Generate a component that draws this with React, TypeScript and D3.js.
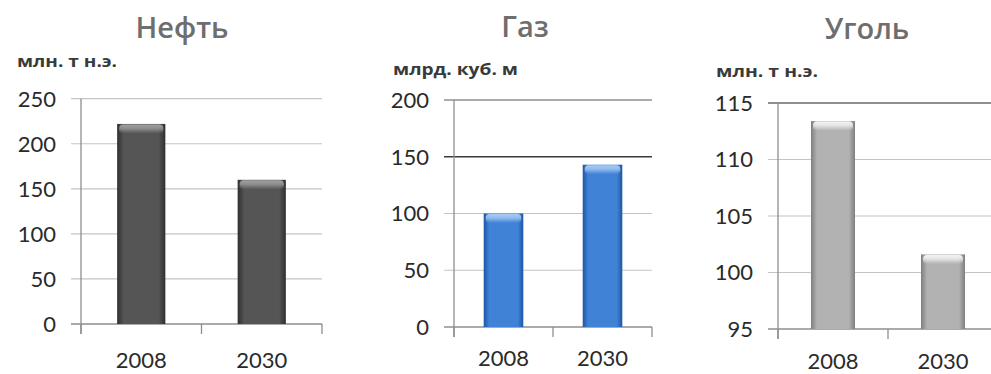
import React from "react";
import * as d3 from "d3";

// Categories and series
const categories = ["2008", "2030"];
const oilValues = [222, 160];
const gasValues = [100, 143];
const coalValues = [113.4, 101.6];

// Axis ticks
const oilTicks = [0, 50, 100, 150, 200, 250];
const gasTicks = [0, 50, 100, 150, 200];
const coalTicks = [95, 100, 105, 110, 115];

// Titles and units
const titles = ["Нефть", "Газ", "Уголь"];
const units = ["млн. т н.э.", "млрд. куб. м", "млн. т н.э."];

type Palette = { edge: string; mid: string; hi: string };

type Panel = {
  id: string;
  title: string;
  unit: string;
  unitWidth: number;
  values: number[];
  ticks: number[];
  x0: number;
  x1: number;
  yBottom: number;
  yTop: number;
  titleX: number;
  titleY: number;
  unitX: number;
  unitY: number;
  catY: number;
  palette: Palette;
  gridColors: Record<number, string>;
};

const panels: Panel[] = [
  {
    id: "oil",
    title: titles[0],
    unit: units[0],
    unitWidth: 100,
    values: oilValues,
    ticks: oilTicks,
    x0: 81,
    x1: 322,
    yBottom: 324,
    yTop: 98.7,
    titleX: 182,
    titleY: 38,
    unitX: 17,
    unitY: 67,
    catY: 368,
    palette: { edge: "#2f2f2f", mid: "#555555", hi: "#a0a0a0" },
    gridColors: {},
  },
  {
    id: "gas",
    title: titles[1],
    unit: units[1],
    unitWidth: 125,
    values: gasValues,
    ticks: gasTicks,
    x0: 454,
    x1: 652,
    yBottom: 327,
    yTop: 100,
    titleX: 525,
    titleY: 37,
    unitX: 393,
    unitY: 75,
    catY: 366,
    palette: { edge: "#1f56a3", mid: "#3f82d6", hi: "#a9cdf5" },
    gridColors: { 150: "#3a3a3a", 200: "#8f8f8f" },
  },
  {
    id: "coal",
    title: titles[2],
    unit: units[2],
    unitWidth: 102,
    values: coalValues,
    ticks: coalTicks,
    x0: 778,
    x1: 998,
    yBottom: 329,
    yTop: 103,
    titleX: 867,
    titleY: 39,
    unitX: 716,
    unitY: 77,
    catY: 369,
    palette: { edge: "#7f7f7f", mid: "#b2b2b2", hi: "#f4f4f4" },
    gridColors: { 115: "#6a6a6a" },
  },
];

const FONT = "Lato, 'Open Sans', sans-serif";
const TITLE_FONT = "'Open Sans', Lato, sans-serif";
const GRID = "#c4c4c4";
const AXIS = "#8e8e8e";

function ChartPanel({ p }: { p: Panel }) {
  const x = d3
    .scaleBand<string>()
    .domain(categories)
    .range([p.x0, p.x1])
    .paddingInner(0.6)
    .paddingOuter(0.3);
  const slots = d3.scaleBand<string>().domain(categories).range([p.x0, p.x1]);
  const y = d3
    .scaleLinear()
    .domain([p.ticks[0], p.ticks[p.ticks.length - 1]])
    .range([p.yBottom, p.yTop]);

  const tickLen = 10;
  const boundaries = [...categories.map((c) => slots(c) as number), p.x1];

  return (
    <g>
      <defs>
        <linearGradient id={`body-${p.id}`} x1="0" x2="1" y1="0" y2="0">
          <stop offset="0" stopColor={p.palette.edge} />
          <stop offset="0.14" stopColor={p.palette.mid} />
          <stop offset="0.5" stopColor={p.palette.mid} />
          <stop offset="0.86" stopColor={p.palette.mid} />
          <stop offset="1" stopColor={p.palette.edge} />
        </linearGradient>
        <linearGradient id={`cap-${p.id}`} x1="0" x2="0" y1="0" y2="1">
          <stop offset="0" stopColor={p.palette.hi} stopOpacity="1" />
          <stop offset="0.45" stopColor={p.palette.hi} stopOpacity="0.75" />
          <stop offset="1" stopColor={p.palette.hi} stopOpacity="0" />
        </linearGradient>
      </defs>

      {/* Title and unit label */}
      <text
        x={p.titleX}
        y={p.titleY}
        textAnchor="middle"
        fontFamily={TITLE_FONT}
        fontWeight={600}
        fontSize={29}
        fill="#6e6e6e"
      >
        {p.title}
      </text>
      <text
        x={p.unitX}
        y={p.unitY}
        fontFamily={TITLE_FONT}
        fontWeight={700}
        fontSize={16}
        textLength={p.unitWidth}
        lengthAdjust="spacingAndGlyphs"
        fill="#3a3a3a"
      >
        {p.unit}
      </text>

      {/* Horizontal gridlines with outside ticks */}
      {p.ticks.map((t) => (
        <line
          key={`g${t}`}
          x1={p.x0 - tickLen}
          x2={p.x1}
          y1={y(t)}
          y2={y(t)}
          stroke={t === p.ticks[0] ? AXIS : p.gridColors[t] ?? GRID}
          strokeWidth={t === p.ticks[0] ? 1.3 : p.gridColors[t] ? 1.6 : 1.2}
        />
      ))}

      {/* Y axis line */}
      <line
        x1={p.x0}
        x2={p.x0}
        y1={y(p.ticks[p.ticks.length - 1])}
        y2={p.yBottom + tickLen}
        stroke={AXIS}
        strokeWidth={1.3}
      />

      {/* Category boundary ticks */}
      {boundaries.map((b, i) => (
        <line
          key={`b${i}`}
          x1={b}
          x2={b}
          y1={p.yBottom}
          y2={p.yBottom + tickLen}
          stroke={AXIS}
          strokeWidth={1.3}
        />
      ))}

      {/* Y tick labels */}
      {p.ticks.map((t) => (
        <text
          key={`l${t}`}
          x={p.x0 - 25}
          y={y(t)}
          dy="0.36em"
          textAnchor="end"
          fontFamily={FONT}
          fontSize={22}
          fill="#2a2a2a"
        >
          {t}
        </text>
      ))}

      {/* Bars */}
      {categories.map((c, i) => {
        const bx = x(c) as number;
        const bw = x.bandwidth();
        const by = y(p.values[i]);
        const bh = p.yBottom - by;
        return (
          <g key={c}>
            <rect x={bx} y={by} width={bw} height={bh} fill={`url(#body-${p.id})`} />
            <rect
              x={bx + 2}
              y={by + 0.5}
              width={bw - 4}
              height={9}
              rx={4}
              fill={`url(#cap-${p.id})`}
            />
          </g>
        );
      })}

      {/* Category labels */}
      {categories.map((c) => (
        <text
          key={`c${c}`}
          x={(x(c) as number) + x.bandwidth() / 2}
          y={p.catY}
          textAnchor="middle"
          fontFamily={FONT}
          fontSize={22}
          fill="#2a2a2a"
        >
          {c}
        </text>
      ))}
    </g>
  );
}

export default function App() {
  return (
    <div style={{ position: "absolute", left: 0, top: 0, width: 991, height: 374 }}>
      <svg width={991} height={374} viewBox="0 0 991 374" style={{ display: "block", background: "#ffffff" }}>
        <rect width={991} height={374} fill="#ffffff" />
        {panels.map((p) => (
          <ChartPanel key={p.id} p={p} />
        ))}
      </svg>
    </div>
  );
}
